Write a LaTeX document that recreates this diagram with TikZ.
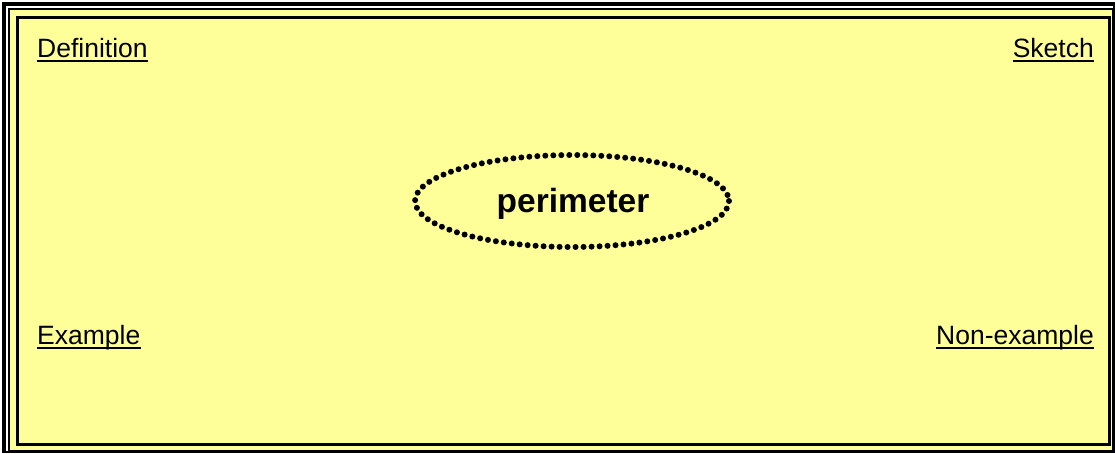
\documentclass[tikz,border=0pt]{standalone}
\usepackage{fontspec}
\setmainfont{Liberation Sans}
\definecolor{pad}{HTML}{FFFF99}
\tikzset{
  lab/.style={inner sep=0pt, font=\fontsize{26.5}{30}\selectfont},
  uline/.style={line width=2pt},
  dotring/.style={draw, line width=6pt, line cap=round, dash pattern=on 0pt off 8pt},
}
\begin{document}
\begin{tikzpicture}[x=1pt,y=-1pt]
\useasboundingbox (0,0) rectangle (1115,453);
\clip (0,0) rectangle (1115,453);
\fill[white] (0,0) rectangle (1115,453);
\fill[black] (2,2) rectangle (1115,453);
\fill[white] (6,6) rectangle (1113,451);
\fill[black] (8,8) rectangle (1113,451);
\fill[pad] (10,10) rectangle (1112,449.5);
\fill[black] (16,16) rectangle (1111,446);
\fill[pad] (19,19) rectangle (1108,443);
\node[lab, anchor=base west] (def) at (37,57) {Definition};
\node[lab, anchor=base east] (sk) at (1094,57) {Sketch};
\node[lab, anchor=base west] (ex) at (37,344) {Example};
\node[lab, anchor=base east] (nex) at (1094,344) {Non-example};
\foreach \n in {def,sk,ex,nex}
  \draw[uline] ([yshift=-4pt]\n.base west) -- ([yshift=-4pt]\n.base east);
\draw[dotring] (572,201) ellipse [x radius=157, y radius=46];
\node[inner sep=0pt, font=\fontsize{33.5}{36}\selectfont\bfseries, anchor=base] (per) at (573,212) {perimeter};
\end{tikzpicture}
\end{document}
